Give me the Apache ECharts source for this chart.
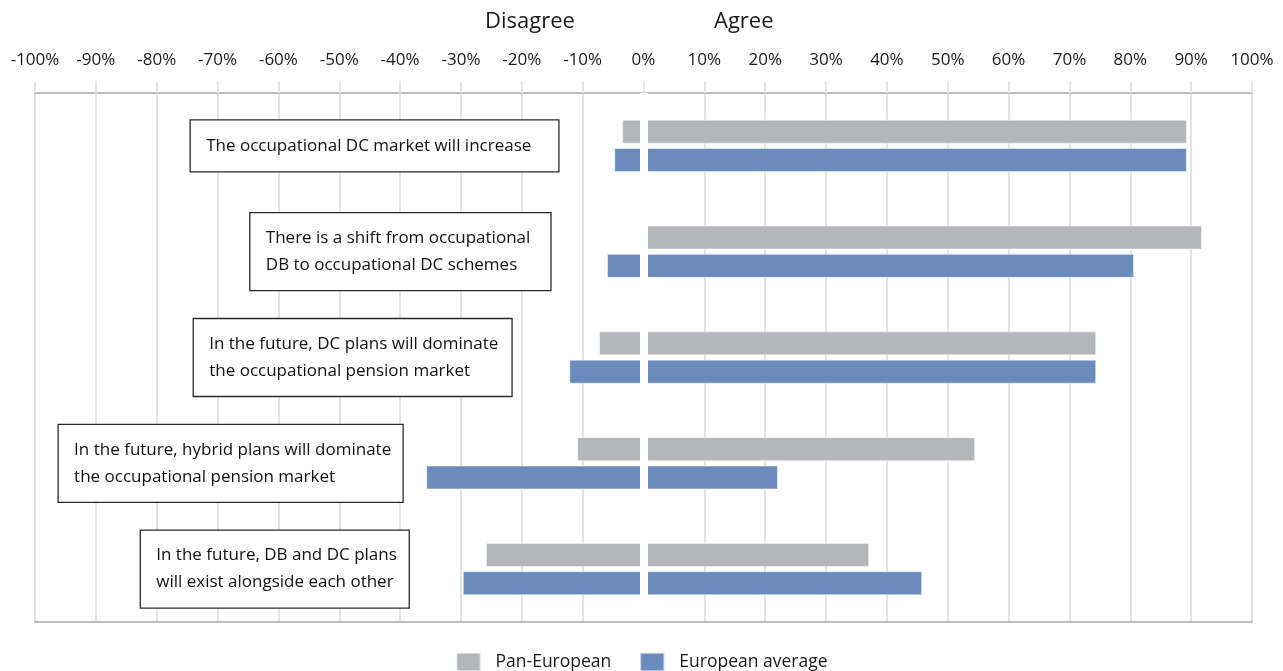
<!DOCTYPE html>
<html>
<head>
<meta charset="utf-8">
<script src="https://cdn.jsdelivr.net/npm/echarts@6/dist/echarts.min.js"></script>
<style>
html,body{margin:0;padding:0;background:#fff;}
#chart{width:1283px;height:671px;}
</style>
</head>
<body>
<div id="chart"></div>
<script>
// ---- data ----
const categories = [
  "The occupational DC market will increase",
  "There is a shift from occupational\nDB to occupational DC schemes",
  "In the future, DC plans will dominate\nthe occupational pension market",
  "In the future, hybrid plans will dominate\nthe occupational pension market",
  "In the future, DB and DC plans\nwill exist alongside each other"
];
const panAgree     = [89.3, 91.8, 74.4, 54.5, 37.1];
const panDisagree  = [-3.5, 0, -7.3, -10.9, -25.9];
const euAgree      = [89.3, 80.6, 74.4, 22.1, 45.8];
const euDisagree   = [-4.8, -6.0, -12.2, -35.7, -29.7];
const tickValues   = [-100, -90, -80, -70, -60, -50, -40, -30, -20, -10, 0, 10, 20, 30, 40, 50, 60, 70, 80, 90, 100];
const seriesNames  = ["Pan-European", "European average"];

// ---- annotation box layout (in axis units: left %, right %) ----
const boxLeft  = [-74.5, -64.7, -74.0, -96.2, -82.7];
const boxRight = [-13.9, -15.2, -21.6, -39.5, -38.5];

const FONT = "'Open Sans', 'Noto Sans', sans-serif";
const GRAY = '#b5b6ba';
const BLUE = '#6a8bbb';

const chart = echarts.init(document.getElementById('chart'));

const boxData = categories.map((c, i) => [i, boxLeft[i], boxRight[i]]);

const option = {
  backgroundColor: '#fff',
  animation: false,
  textStyle: { fontFamily: FONT },
  title: [
    { text: 'Disagree', left: 480, top: 6, textStyle: { fontFamily: FONT, fontSize: 22, fontWeight: 'normal', color: '#1a1a1a' } },
    { text: 'Agree', left: 709, top: 6, textStyle: { fontFamily: FONT, fontSize: 22, fontWeight: 'normal', color: '#1a1a1a' } }
  ],
  legend: {
    data: seriesNames,
    top: 647,
    left: 'center',
    itemWidth: 24,
    itemHeight: 18,
    itemGap: 28,
    icon: 'rect',
    textStyle: { fontFamily: FONT, fontSize: 17.5, color: '#1a1a1a', padding: [0, 0, 0, 10] }
  },
  grid: {
    left: 35, right: 31, top: 93, bottom: 49,
    show: true, borderColor: '#bdbdbf', borderWidth: 2
  },
  xAxis: [
    {
      type: 'value', position: 'top', min: -100, max: 100, interval: 10,
      axisLine: { show: true, lineStyle: { color: '#bdbdbf', width: 2 } },
      axisTick: { show: true, length: 12, lineStyle: { color: '#e4e4e6', width: 2 } },
      axisLabel: { margin: 24, fontSize: 17, color: '#1a1a1a', fontFamily: FONT, formatter: v => v + '%' },
      splitLine: { show: true, lineStyle: { color: '#e4e4e6', width: 2 } }
    },
    {
      type: 'value', position: 'bottom', min: -100, max: 100, interval: 10, z: 10,
      axisLine: { show: true, lineStyle: { color: '#bdbdbf', width: 2 } },
      axisTick: { show: false }, axisLabel: { show: false }, splitLine: { show: false }
    }
  ],
  yAxis: {
    type: 'category', data: categories, inverse: true,
    axisLine: { show: false }, axisTick: { show: false }, axisLabel: { show: false },
    splitLine: { show: false }
  },
  series: [
    { name: seriesNames[0], type: 'bar', stack: 'pan', data: panAgree, barWidth: 24, barGap: '18%',
      itemStyle: { color: GRAY, borderColor: 'rgba(255,255,255,0.5)', borderWidth: 1 } },
    { name: seriesNames[0], type: 'bar', stack: 'pan', data: panDisagree, barWidth: 24, barGap: '18%',
      itemStyle: { color: GRAY, borderColor: 'rgba(255,255,255,0.5)', borderWidth: 1 } },
    { name: seriesNames[1], type: 'bar', stack: 'eu', data: euAgree, barWidth: 24, barGap: '18%',
      itemStyle: { color: BLUE, borderColor: 'rgba(255,255,255,0.5)', borderWidth: 1 } },
    { name: seriesNames[1], type: 'bar', stack: 'eu', data: euDisagree, barWidth: 24, barGap: '18%',
      itemStyle: { color: BLUE, borderColor: 'rgba(255,255,255,0.5)', borderWidth: 1 } },
    {
      name: 'boxes', type: 'custom', z: 4, silent: true,
      data: boxData,
      encode: { x: [1, 2], y: 0 },
      renderItem: function (params, api) {
        const idx = api.value(0);
        const pL = api.coord([api.value(1), idx]);
        const pR = api.coord([api.value(2), idx]);
        const text = categories[params.dataIndex];
        const lines = text.split('\n').length;
        const h = lines === 1 ? 52 : 78;
        return {
          type: 'group',
          children: [
            { type: 'rect', shape: { x: pL[0], y: pL[1] - h / 2, width: pR[0] - pL[0], height: h },
              style: { fill: '#fff', stroke: '#2a2a2a', lineWidth: 1.3 } },
            { type: 'text', x: pL[0] + 16, y: pL[1],
              style: { text: text, fill: '#111', font: '17px ' + FONT, lineHeight: 27,
                       textVerticalAlign: 'middle', verticalAlign: 'middle', align: 'left' } }
          ]
        };
      },
      markLine: {
        silent: true, symbol: 'none', label: { show: false },
        lineStyle: { color: '#fff', width: 8, type: 'solid' },
        data: [{ xAxis: 0 }]
      }
    }
  ]
};
chart.setOption(option);
</script>
</body>
</html>
